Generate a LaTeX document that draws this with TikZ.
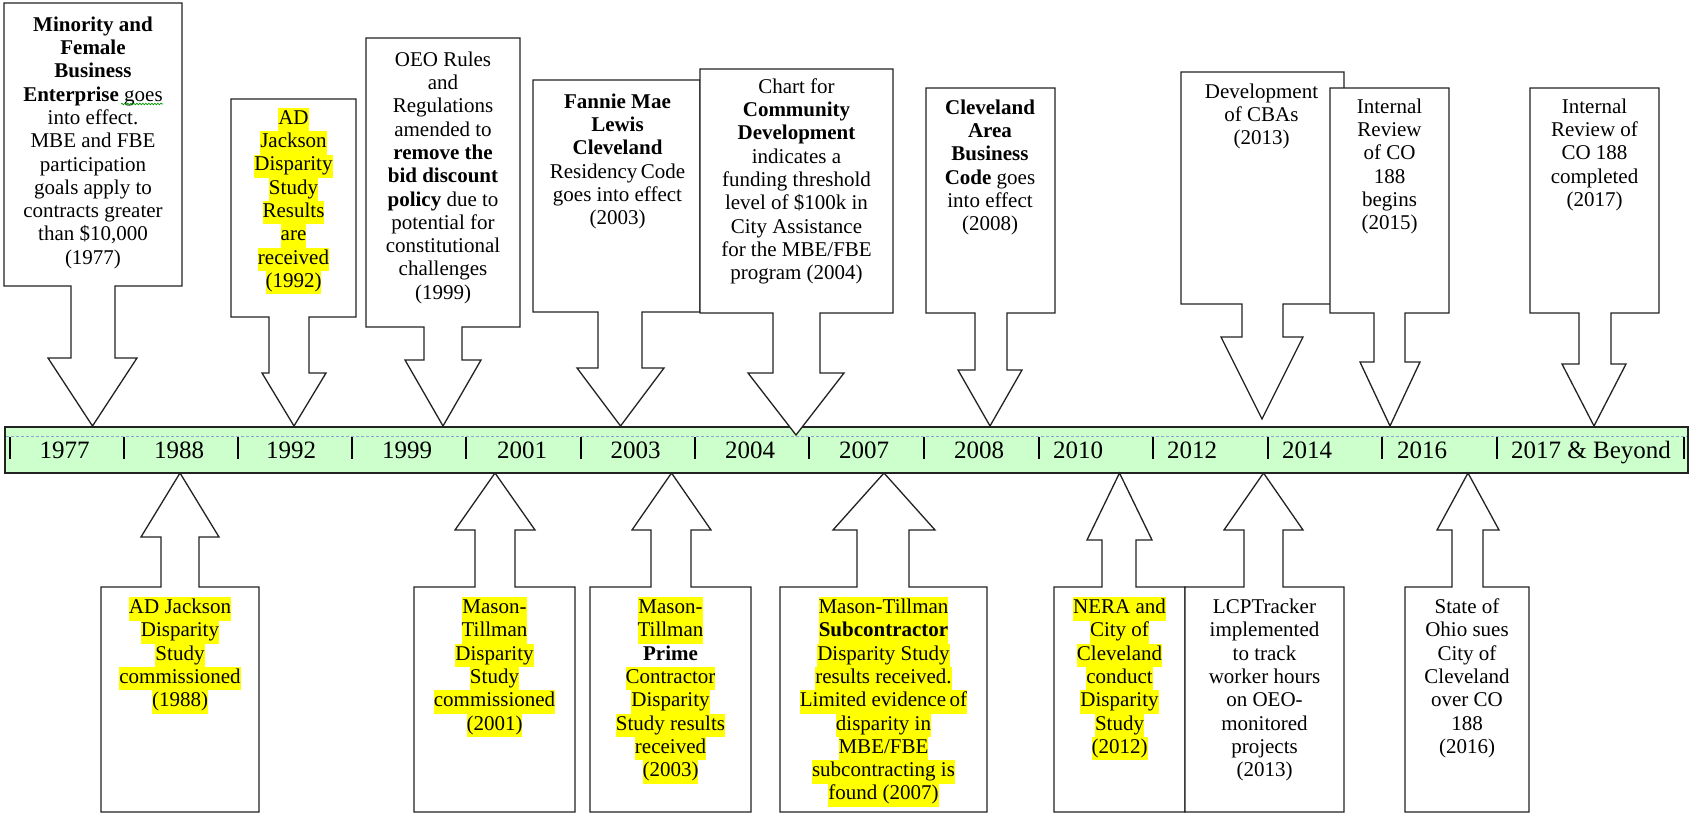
\documentclass[tikz,border=0pt]{standalone}
\usepackage{fontspec}
\setmainfont{Liberation Serif}
\usetikzlibrary{decorations.pathmorphing}
\definecolor{barfill}{HTML}{CCFFCC}
\definecolor{dashc}{HTML}{8EA4D2}
\definecolor{hlc}{HTML}{FFFF00}
\definecolor{edge}{HTML}{222222}
\AtBeginDocument{\setlength{\lineskiplimit}{-20pt}}
\newcommand\stt{\vrule width 0pt height 16.3pt depth 7pt\relax}
\newcommand\hy[1]{{\setlength{\fboxsep}{0pt}\colorbox{hlc}{\stt #1}}}
\def\tipy{426}
\def\tipu{473}
% down callout: L,T,R,B,shaftL,shaftR,headbase,headL,headR
\newcommand\dcall[9]{\draw[callout] (#1,#2) -- (#3,#2) -- (#3,#4) -- (#6,#4) -- (#6,#7) -- (#9,#7) -- ({(#8+#9)/2},\tipy) -- (#8,#7) -- (#5,#7) -- (#5,#4) -- (#1,#4) -- cycle;}
% up callout: L,T,R,B,shaftL,shaftR,headbase,headL,headR
\newcommand\ucall[9]{\draw[callout] (#1,#4) -- (#1,#2) -- (#5,#2) -- (#5,#7) -- (#8,#7) -- ({(#8+#9)/2},\tipu) -- (#9,#7) -- (#6,#7) -- (#6,#2) -- (#3,#2) -- (#3,#4) -- cycle;}
\begin{document}
\begin{tikzpicture}[x=1pt,y=-1pt,
  callout/.style={draw=edge,line width=1.3pt,fill=white,line join=miter},
  txt/.style={align=center,anchor=north,inner sep=0pt,font=\fontsize{21}{23.3}\selectfont},
  yr/.style={anchor=base,inner sep=0pt,font=\fontsize{25}{28}\selectfont},
  tickmark/.style={line width=1.8pt,draw=black}]
\useasboundingbox (0,0) rectangle (1690,814);
\fill[white] (0,0) rectangle (1690,814);
% timeline bar
\node[draw=edge,line width=1.5pt,fill=barfill,minimum width=1683pt,minimum height=46pt,inner sep=0pt,anchor=north west] (bar) at (4,426) {};
\draw[dashc,line width=1pt,dash pattern=on 3pt off 2pt] ([xshift=2pt,yshift=-10pt]bar.north west) -- ([xshift=-2pt,yshift=-10pt]bar.north east);
\foreach \x in {10,124,238,352,466,581,695,809,924,1039,1153,1268,1382,1497,1684}
  \draw[tickmark] (\x,437) -- (\x,459);
\node[yr] (y1977) at (64.5,458) {1977};
\node[yr] (y1988) at (179,458) {1988};
\node[yr] (y1992) at (291,458) {1992};
\node[yr] (y1999) at (407,458) {1999};
\node[yr] (y2001) at (522,458) {2001};
\node[yr] (y2003) at (635.5,458) {2003};
\node[yr] (y2004) at (750,458) {2004};
\node[yr] (y2007) at (864,458) {2007};
\node[yr] (y2008) at (979,458) {2008};
\node[yr,anchor=base west] (y2010) at (1053,458) {2010};
\node[yr,anchor=base west] (y2012) at (1167,458) {2012};
\node[yr,anchor=base west] (y2014) at (1282,458) {2014};
\node[yr,anchor=base west] (y2016) at (1397,458) {2016};
\node[yr,anchor=base west] (y2017) at (1511,458) {2017 \& Beyond};
% top callouts
\dcall{4}{3}{182}{286}{71}{115}{358}{48}{137}
\dcall{231}{99}{356}{317}{269}{309}{373}{262}{326}
\dcall{366}{38}{520}{327}{424}{462}{360}{405}{481}
\dcall{533}{80}{700}{312}{598}{642}{368}{577}{664}
\def\tipy{435}
\dcall{700}{69}{893}{313}{773}{820}{373}{748}{844}
\def\tipy{426}
\dcall{926}{88}{1055}{313}{975}{1007}{370}{958}{1022}
\def\tipy{419}
\dcall{1181}{72}{1344}{304}{1242}{1283}{337}{1221}{1303}
\def\tipy{426}
\dcall{1330}{88}{1449}{313}{1374}{1405}{362}{1360}{1420}
\dcall{1530}{88}{1659}{313}{1579}{1611}{364}{1562}{1626}
% bottom callouts
\ucall{101}{587}{259}{812}{161}{199}{537}{141}{219}
\ucall{414}{587}{575}{812}{475}{515}{530}{455}{535}
\ucall{590}{587}{751}{812}{651}{691}{530}{632}{711}
\ucall{780}{587}{987}{812}{857}{909}{530}{833}{935}
\ucall{1054}{587}{1185}{812}{1102}{1136}{540}{1087}{1152}
\ucall{1185}{587}{1344}{812}{1244}{1283}{530}{1224}{1303}
\ucall{1405}{587}{1529}{812}{1452}{1483}{530}{1437}{1499}
% top texts
\node[txt] (t1) at (93,14.7) {\stt\textbf{Minority and}\\ \textbf{Female}\\ \textbf{Business}\\ \textbf{Enterprise} goes\\ into effect.\\ MBE and FBE\\ participation\\ goals apply to\\ contracts greater\\ than \$10,000\\ (1977)};
\draw[green!60!black,line width=0.7pt,decorate,decoration={snake,amplitude=0.8pt,segment length=3pt}] (121,104) -- (163,104);
\node[txt] (t2) at (293.5,107.7) {\hy{AD}\\ \hy{Jackson}\\ \hy{Disparity}\\ \hy{Study}\\ \hy{Results}\\ \hy{are}\\ \hy{received}\\ \hy{(1992)}};
\node[txt] (t3) at (443,49.7) {\stt OEO Rules\\ and\\ Regulations\\ amended to\\ \textbf{remove the}\\ \textbf{bid discount}\\ \textbf{policy} due to\\ potential for\\ constitutional\\ challenges\\ (1999)};
\node[txt] (t4) at (617.5,91.7) {\stt\textbf{Fannie Mae}\\ \textbf{Lewis}\\ \textbf{Cleveland}\\ Residency\,Code\\ goes into effect\\ (2003)};
\node[txt] (t5) at (796.5,76.7) {\stt Chart for\\ \textbf{Community}\\ \textbf{Development}\\ indicates a\\ funding threshold\\ level of \$100k in\\ City Assistance\\ for the MBE/FBE\\ program (2004)};
\node[txt] (t6) at (990,97.7) {\stt\textbf{Cleveland}\\ \textbf{Area}\\ \textbf{Business}\\ \textbf{Code} goes\\ into effect\\ (2008)};
\node[txt] (t7) at (1261.5,81.7) {\stt Development\\ of CBAs\\ (2013)};
\node[txt] (t8) at (1389.5,96.7) {\stt Internal\\ Review\\ of CO\\ 188\\ begins\\ (2015)};
\node[txt] (t9) at (1594.5,96.7) {\stt Internal\\ Review of\\ CO 188\\ completed\\ (2017)};
% bottom texts
\node[txt] (b1) at (180,597) {\hy{AD Jackson}\\ \hy{Disparity}\\ \hy{Study}\\ \hy{commissioned}\\ \hy{(1988)}};
\node[txt] (b2) at (494.5,597) {\hy{Mason-}\\ \hy{Tillman}\\ \hy{Disparity}\\ \hy{Study}\\ \hy{commissioned}\\ \hy{(2001)}};
\node[txt] (b3) at (670.5,597) {\hy{Mason-}\\ \hy{Tillman}\\ \textbf{Prime}\\ \hy{Contractor}\\ \hy{Disparity}\\ \hy{Study results}\\ \hy{received}\\ \hy{(2003)}};
\node[txt] (b4) at (883.5,597) {\hy{Mason-Tillman}\\ \hy{\textbf{Subcontractor}}\\ \hy{Disparity Study}\\ \hy{results received.}\\ \hy{Limited evidence\,of}\\ \hy{disparity in}\\ \hy{MBE/FBE}\\ \hy{subcontracting is}\\ \hy{found (2007)}};
\node[txt] (b5) at (1119.5,597) {\hy{NERA and}\\ \hy{City of}\\ \hy{Cleveland}\\ \hy{conduct}\\ \hy{Disparity}\\ \hy{Study}\\ \hy{(2012)}};
\node[txt] (b6) at (1264.5,597) {\stt LCPTracker\\ implemented\\ to track\\ worker hours\\ on OEO-\\ monitored\\ projects\\ (2013)};
\node[txt] (b7) at (1467,597) {\stt State of\\ Ohio sues\\ City of\\ Cleveland\\ over CO\\ 188\\ (2016)};
\end{tikzpicture}
\end{document}
